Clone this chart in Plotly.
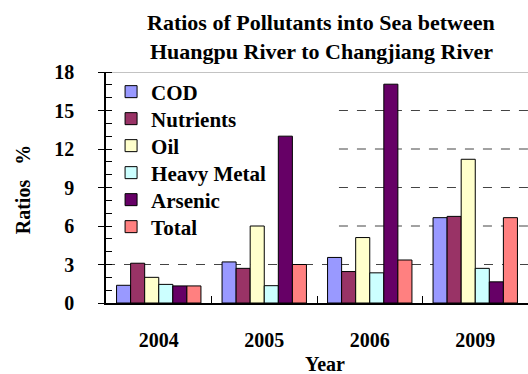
import plotly.graph_objects as go

years = ["2004", "2005", "2006", "2009"]
series_names = ["COD", "Nutrients", "Oil", "Heavy Metal", "Arsenic", "Total"]
cod = [1.38, 3.2, 3.55, 6.65]
nutrients = [3.1, 2.7, 2.45, 6.75]
oil = [2.0, 6.0, 5.1, 11.2]
heavy_metal = [1.45, 1.35, 2.35, 2.7]
arsenic = [1.33, 13.0, 17.05, 1.65]
total = [1.33, 3.0, 3.35, 6.65]
y_ticks = [0, 3, 6, 9, 12, 15, 18]

values = [cod, nutrients, oil, heavy_metal, arsenic, total]
colors = ["#9999FF", "#993366", "#FFFFCC", "#CCFFFF", "#660066", "#FF8080"]

FONT = "Liberation Serif, Times New Roman, serif"

fig = go.Figure()
legend_layouts = {}
for i, (name, vals, col) in enumerate(zip(series_names, values, colors)):
    key = "legend" if i == 0 else f"legend{i + 1}"
    fig.add_trace(go.Bar(x=years, y=vals, name=f"<b>{name}</b>", legend=key,
                         marker=dict(color=col, line=dict(color="black", width=1))))
    row_center_px = 92 + 27 * i
    legend_layouts[key] = dict(
        x=0.012, y=(303 - row_center_px) / 231, xanchor="left", yanchor="middle",
        bgcolor="rgba(0,0,0,0)", font=dict(family=FONT, size=21, color="black"),
        itemwidth=30)

shapes = []
for v in y_ticks[1:-1]:
    x0 = 0 if v == 3 else 0.552
    shapes.append(dict(type="line", xref="paper", yref="y", x0=x0, x1=1, y0=v, y1=v,
                       line=dict(color="#444444", width=1, dash="dash"), layer="below"))
shapes.append(dict(type="line", xref="paper", yref="y", x0=0, x1=1, y0=18, y1=18,
                   line=dict(color="#888888", width=1), layer="below"))

annotations = [
    dict(text="<b>Ratios of Pollutants into Sea between</b>", xref="paper", yref="paper",
         x=0.51, y=1.216, xanchor="center", yanchor="middle", showarrow=False,
         font=dict(family=FONT, size=22, color="black")),
    dict(text="<b>Huangpu River to Changjiang River</b>", xref="paper", yref="paper",
         x=0.51, y=1.087, xanchor="center", yanchor="middle", showarrow=False,
         font=dict(family=FONT, size=22, color="black")),
    dict(text="<b>Ratios   %</b>", xref="paper", yref="paper", x=-0.198, y=0.49,
         xanchor="center", yanchor="middle", textangle=-90, showarrow=False,
         font=dict(family=FONT, size=20, color="black")),
    dict(text="<b>Year</b>", xref="paper", yref="paper", x=0.52, y=-0.262,
         xanchor="center", yanchor="middle", showarrow=False,
         font=dict(family=FONT, size=20, color="black")),
]

fig.update_layout(
    width=528, height=374,
    margin=dict(l=106, r=0, t=72, b=71),
    paper_bgcolor="white", plot_bgcolor="white",
    barmode="group", bargap=0.2, bargroupgap=0,
    font=dict(family=FONT, color="black"),
    shapes=shapes, annotations=annotations,
    showlegend=True,
    **legend_layouts,
)
fig.update_xaxes(
    type="category", range=[-0.5, 3.5], automargin=False, showgrid=False, showline=True,
    linecolor="black", linewidth=1.5,
    ticks="inside", tickson="boundaries", ticklen=7, tickcolor="black",
    tickvals=years, ticktext=[f"<b>{y}</b>" for y in years],
    tickfont=dict(family=FONT, size=20, color="black"), ticklabelstandoff=18,
)
fig.update_yaxes(
    range=[0, 18], automargin=False, tickvals=y_ticks, ticktext=[f"<b>{t}</b>" for t in y_ticks],
    showgrid=False, zeroline=False, showline=True, linecolor="black", linewidth=1.5,
    ticks="outside", ticklen=6, tickcolor="black",
    minor=dict(dtick=1, ticks="inside", ticklen=6, tickcolor="black", showgrid=False),
    tickfont=dict(family=FONT, size=20, color="black"), ticklabelstandoff=20,
)

fig.write_html("out.html", config={"displayModeBar": False},
               post_script="document.body.style.margin='0';")
